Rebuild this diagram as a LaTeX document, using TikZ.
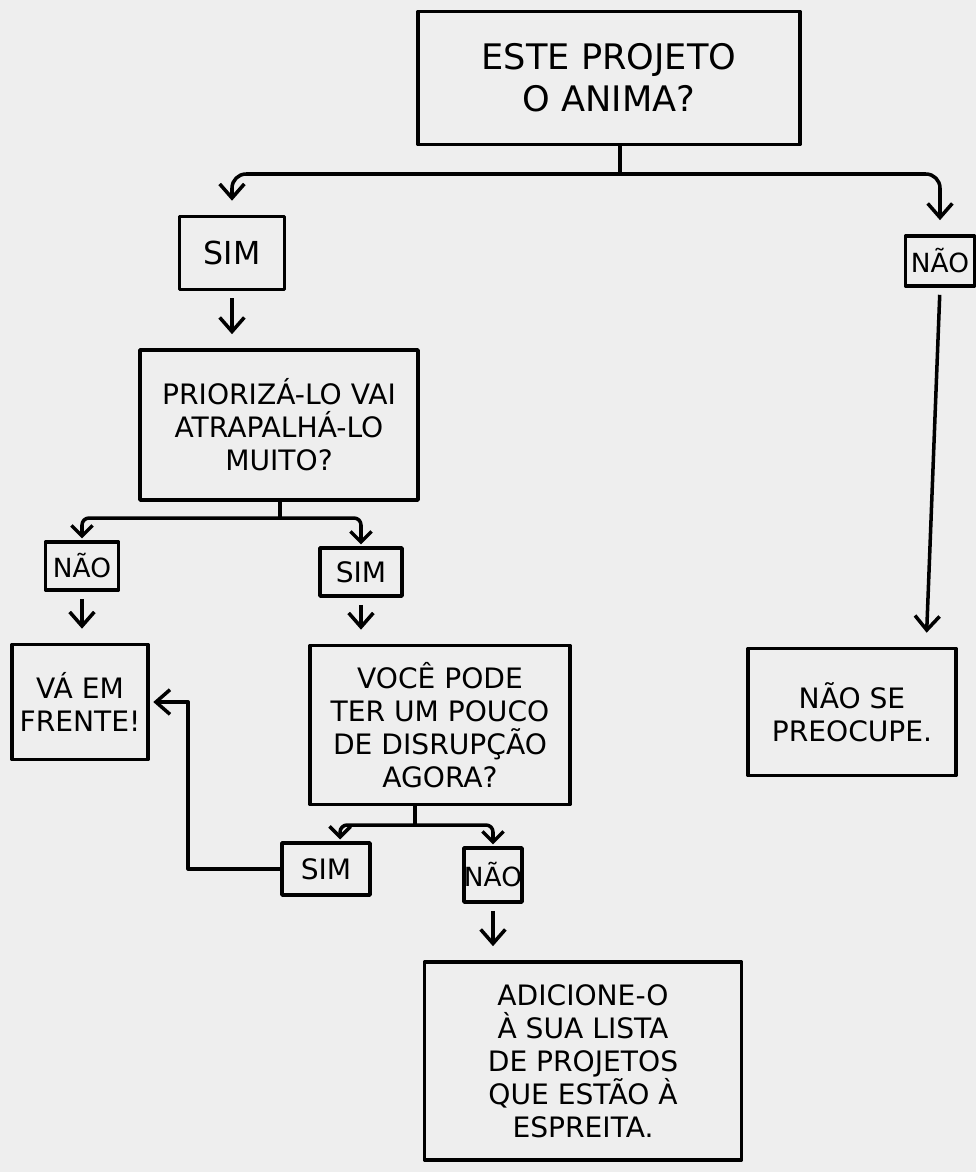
\documentclass[tikz,border=0pt]{standalone}
\usepackage{fontspec}
\setmainfont{DejaVu Sans}
\usetikzlibrary{arrows.meta}
\definecolor{paper}{HTML}{EEEEEE}

\begin{document}
\begin{tikzpicture}[x=0.01cm, y=-0.01cm, line width=1pt, line join=round,
    every node/.style = {draw, rectangle, align=center, inner sep=0pt,
                         font=\fontsize{8}{9.4}\selectfont},
    box/.style 2 args = {minimum width=#1*0.01cm, minimum height=#2*0.01cm},
    small/.style = {font=\fontsize{7.5}{9}\selectfont},
    arr/.style = {-{Straight Barb[length=4pt,width=7pt]}, shorten >=4pt},
    fork/.style = {-{Straight Barb[length=3pt,width=6pt]}, shorten >=0.5pt, rounded corners=2pt}]
  \fill[paper] (0,0) rectangle (976,1172);

  \node[box={382}{133}, font=\fontsize{10}{12}\selectfont] (anima) at (609,78) {ESTE PROJETO\\O ANIMA?};
  \node[box={105}{73}, font=\fontsize{9}{10}\selectfont] (sim1) at (232,253) {SIM};
  \node[box={69}{50}, small] (nao1) at (940,261) {NÃO};
  \node[box={278}{150}] (prioriza) at (279,425) {PRIORIZÁ-LO VAI\\ATRAPALHÁ-LO\\MUITO?};
  \node[box={73}{48}, small] (nao2) at (82,566) {NÃO};
  \node[box={82}{48}] (sim2) at (361,572) {SIM};
  \node[box={136}{115}] (va) at (80,702) {VÁ EM\\FRENTE!};
  \node[box={260}{159}] (disrupcao) at (440,725) {VOCÊ PODE\\TER UM POUCO\\DE DISRUPÇÃO\\AGORA?};
  \node[box={88}{52}] (sim3) at (326,869) {SIM};
  \node[box={54}{54}, small] (nao3) at (493,875) {NÃO};
  \node[box={317}{198}] (lista) at (583,1061) {ADICIONE-O\\À SUA LISTA\\DE PROJETOS\\QUE ESTÃO À\\ESPREITA.};
  \node[box={208}{127}] (preocupe) at (852,712) {NÃO SE\\PREOCUPE.};

  % branches
  \coordinate (j1) at (620,174);
  \coordinate (j2) at (280,518);
  \coordinate (j3) at (415,825);
  \draw (j1 |- anima.south) -- (j1);
  \draw[arr, rounded corners=4pt] (j1) -| (sim1);
  \draw[arr, rounded corners=4pt] (j1) -| (nao1);
  \draw (j2 |- prioriza.south) -- (j2);
  \draw[fork] (j2) -| (nao2);
  \draw[fork] (j2) -| (sim2);
  \draw (j3 |- disrupcao.south) -- (j3);
  \draw[fork] (j3) -| ([xshift=4pt]sim3.north);
  \draw[fork] (j3) -| (nao3);

  % straight arrows
  \draw[arr, shorten <=2pt] (sim1.south) -- (sim1.south |- prioriza.north);
  \draw[arr, shorten <=2pt] (nao2.south) -- (nao2.south |- va.north);
  \draw[arr, shorten <=2pt] (sim2.south) -- (sim2.south |- disrupcao.north);
  \draw[arr, shorten <=2pt] (nao3.south) -- (nao3.south |- lista.north);
  \draw[arr, shorten <=2pt] (nao1.south) -- ([xshift=-9pt]preocupe.north east);
  \draw[arr, shorten >=1pt] (sim3.west) -- ++(-92,0) |- (va);
\end{tikzpicture}
\end{document}
